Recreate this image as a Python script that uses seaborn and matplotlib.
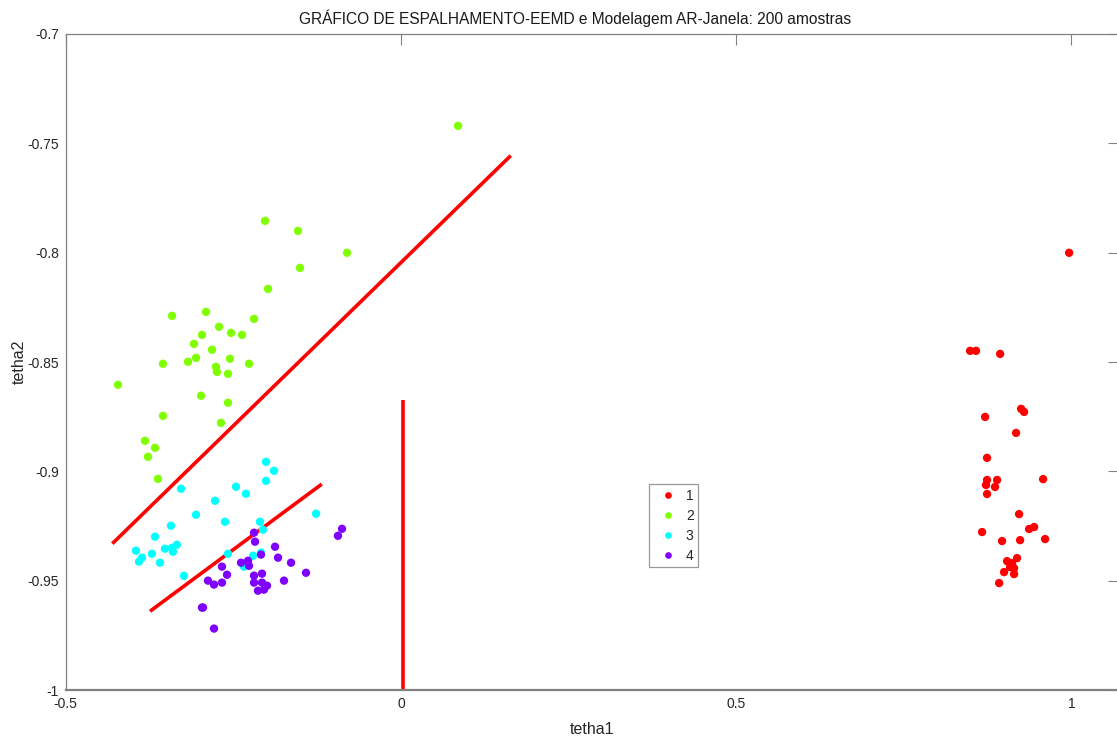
import numpy as np
import pandas as pd
import matplotlib
matplotlib.use("Agg")
import matplotlib.pyplot as plt
from matplotlib import font_manager
import seaborn as sns

# --- cluster coordinates (tetha1, tetha2) ---
g1_x = [0.9966, 0.8489, 0.8578, 0.8937, 0.8713, 0.9250, 0.9294, 0.9175, 0.8742, 0.8742,
        0.8892, 0.9578, 0.8727, 0.8861, 0.8742, 0.9220, 0.8668, 0.9369, 0.9444, 0.8966,
        0.9235, 0.9608, 0.9190, 0.9041, 0.9115, 0.9085, 0.9145, 0.8996, 0.9145, 0.8922]
g1_y = [-0.8001, -0.8449, -0.8449, -0.8463, -0.8751, -0.8714, -0.8728, -0.8824, -0.8938, -0.9039,
        -0.9039, -0.9035, -0.9062, -0.9071, -0.9103, -0.9195, -0.9277, -0.9263, -0.9254, -0.9318,
        -0.9314, -0.9309, -0.9396, -0.9410, -0.9419, -0.9437, -0.9442, -0.9460, -0.9469, -0.9510]

g2_x = [0.0852, -0.2027, -0.1535, -0.0804, -0.1505, -0.1982, -0.3414, -0.2907, -0.2191, -0.2713,
        -0.2534, -0.2370, -0.2967, -0.3087, -0.2818, -0.3057, -0.3176, -0.3549, -0.2759, -0.2744,
        -0.2550, -0.2580, -0.2266, -0.4220, -0.2982, -0.2580, -0.3549, -0.2684, -0.3817, -0.3668,
        -0.3773, -0.3624]
g2_y = [-0.7421, -0.7855, -0.7901, -0.8001, -0.8070, -0.8166, -0.8289, -0.8271, -0.8303, -0.8339,
        -0.8367, -0.8376, -0.8376, -0.8417, -0.8444, -0.8481, -0.8499, -0.8508, -0.8522, -0.8545,
        -0.8485, -0.8554, -0.8508, -0.8604, -0.8654, -0.8686, -0.8746, -0.8778, -0.8860, -0.8892,
        -0.8933, -0.9034]

g3_x = [-0.2012, -0.1893, -0.2012, -0.3280, -0.2460, -0.2311, -0.2773, -0.3057, -0.2624, -0.1266,
        -0.2102, -0.2058, -0.3430, -0.3668, -0.3952, -0.3862, -0.3907, -0.3713, -0.3594, -0.3520,
        -0.3416, -0.3401, -0.3341, -0.3236, -0.2579, -0.2206, -0.2087, -0.2341, -0.2296]
g3_y = [-0.8956, -0.8997, -0.9043, -0.9079, -0.9070, -0.9102, -0.9134, -0.9198, -0.9230, -0.9193,
        -0.9230, -0.9266, -0.9248, -0.9298, -0.9362, -0.9394, -0.9412, -0.9376, -0.9417, -0.9353,
        -0.9349, -0.9367, -0.9335, -0.9477, -0.9376, -0.9385, -0.9371, -0.9435, -0.9426]

g4_x = [-0.2191, -0.2176, -0.0879, -0.0939, -0.1878, -0.2087, -0.1833, -0.1639, -0.2385, -0.2281,
        -0.2266, -0.2669, -0.2594, -0.1416, -0.2072, -0.2191, -0.2191, -0.2072, -0.1998, -0.2132,
        -0.2043, -0.1744, -0.2878, -0.2788, -0.2669, -0.2967, -0.2952, -0.2788]
g4_y = [-0.9280, -0.9321, -0.9262, -0.9294, -0.9344, -0.9380, -0.9394, -0.9417, -0.9417, -0.9408,
        -0.9431, -0.9435, -0.9472, -0.9463, -0.9467, -0.9476, -0.9508, -0.9508, -0.9522, -0.9545,
        -0.9540, -0.9499, -0.9499, -0.9517, -0.9508, -0.9622, -0.9622, -0.9718]

group_labels = ["1", "2", "3", "4"]
group_colors = ["#FF0000", "#80FF00", "#00FFFF", "#8000FF"]

# --- separating boundaries ---
line1_x = [-0.4305, 0.1638]
line1_y = [-0.9330, -0.7557]
line2_x = [-0.3743, -0.1181]
line2_y = [-0.9639, -0.9058]
line3_x = [0.003, 0.003]
line3_y = [-0.8674, -1.0]

xtick_vals = [-0.5, 0, 0.5, 1]
xtick_labels = ["-0.5", "0", "0.5", "1"]
ytick_vals = [-1.0, -0.95, -0.9, -0.85, -0.8, -0.75, -0.7]
ytick_labels = ["-1", "-0.95", "-0.9", "-0.85", "-0.8", "-0.75", "-0.7"]

title = "GRÁFICO DE ESPALHAMENTO-EEMD e Modelagem AR-Janela: 200 amostras"

frames = []
for lab, xs, ys in zip(group_labels, [g1_x, g2_x, g3_x, g4_x], [g1_y, g2_y, g3_y, g4_y]):
    frames.append(pd.DataFrame({"tetha1": xs, "tetha2": ys, "grupo": lab}))
df = pd.concat(frames, ignore_index=True)

sns.set_theme(style="white")
installed = {f.name for f in font_manager.fontManager.ttflist}
family = "Liberation Sans Narrow" if "Liberation Sans Narrow" in installed else "Liberation Sans"
plt.rcParams["font.family"] = [family, "DejaVu Sans"]

fig = plt.figure(figsize=(11.17, 7.40), dpi=100)
ax = fig.add_axes([65.7 / 1117, 49.7 / 740, (1119 - 65.7) / 1117, 656.6 / 740])

sns.scatterplot(data=df, x="tetha1", y="tetha2", hue="grupo",
                palette=dict(zip(group_labels, group_colors)),
                s=36, linewidth=0, ax=ax, zorder=3)

for lx, ly in [(line1_x, line1_y), (line2_x, line2_y), (line3_x, line3_y)]:
    ax.plot(lx, ly, color="#FF0000", linewidth=2.6, solid_capstyle="butt", zorder=2)

ax.set_xlim(-0.5, 1.071)
ax.set_ylim(-1.0, -0.7)
ax.set_xticks(xtick_vals)
ax.set_xticklabels(xtick_labels)
ax.set_yticks(ytick_vals)
ax.set_yticklabels(ytick_labels)

ax.tick_params(axis="both", direction="in", length=8, width=0.8, color="#808080",
               labelsize=10, labelcolor="#262626", top=True, right=True, pad=5)
for sp in ax.spines.values():
    sp.set_color("#808080")
    sp.set_linewidth(0.9)
ax.spines["bottom"].set_linewidth(1.6)

ax.set_xlabel("tetha1", fontsize=11.5, color="#262626", labelpad=8)
ax.set_ylabel("tetha2", fontsize=11.5, color="#262626")
ax.yaxis.set_label_coords(-0.037, 0.5)
ax.set_title(title, fontsize=11.2, color="#1a1a1a", x=0.4835, pad=7)

leg = ax.legend(loc="center", bbox_to_anchor=(0.577, 0.2504), frameon=True,
                fancybox=False, fontsize=10, handlelength=2.1, handletextpad=0.25,
                borderpad=0.3, borderaxespad=0, labelspacing=0.45, markerscale=0.8)
leg.get_frame().set_edgecolor("#808080")
leg.get_frame().set_linewidth(0.9)
for t in leg.get_texts():
    t.set_color("#262626")

fig.savefig("out.png", dpi=100)
